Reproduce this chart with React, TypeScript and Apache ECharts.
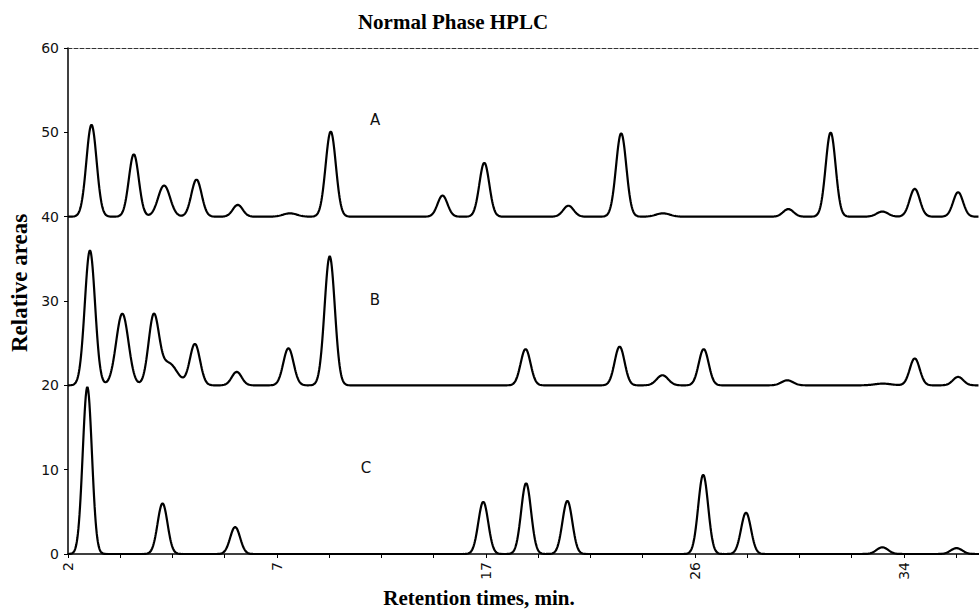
import React, { useEffect, useRef } from "react";
import * as echarts from "echarts";

// x positions are in axis-tick units (one minor tick = 1 unit); major ticks every 4 units
const xTickLabels = ["2", "7", "17", "26", "34"];
const majorTickStep = 4;
const xMax = 17.44;

// Baselines of the three offset chromatograms (relative area units)
const baselineA = 40;
const baselineB = 20;
const baselineC = 0;

// Peaks: [position (tick units), height above baseline, width (sigma, tick units)]
const peaksA: number[][] = [
  [0.45, 10.9, 0.098], [1.26, 7.4, 0.095], [1.84, 3.7, 0.115], [2.46, 4.4, 0.098],
  [3.25, 1.4, 0.095], [4.25, 0.4, 0.13], [5.03, 10.1, 0.098], [7.17, 2.5, 0.095],
  [7.97, 6.4, 0.095], [9.58, 1.3, 0.1], [10.59, 9.9, 0.098], [11.39, 0.4, 0.13],
  [13.79, 0.9, 0.1], [14.6, 10.0, 0.095], [15.59, 0.6, 0.11], [16.21, 3.3, 0.098],
  [17.04, 2.9, 0.095],
];
const peaksB: number[][] = [
  [0.42, 16.0, 0.098], [1.04, 8.5, 0.118], [1.64, 8.0, 0.1], [1.93, 2.6, 0.16],
  [2.43, 4.9, 0.098], [3.23, 1.6, 0.095], [4.22, 4.4, 0.098], [5.01, 15.3, 0.098],
  [8.76, 4.3, 0.095], [10.56, 4.6, 0.095], [11.38, 1.2, 0.11], [12.17, 4.3, 0.095],
  [13.77, 0.6, 0.11], [15.6, 0.2, 0.16], [16.21, 3.2, 0.095], [17.04, 1.0, 0.1],
];
const peaksC: number[][] = [
  [0.37, 19.8, 0.088], [1.81, 6.0, 0.095], [3.2, 3.2, 0.095], [7.95, 6.2, 0.095],
  [8.77, 8.4, 0.095], [9.56, 6.3, 0.095], [12.16, 9.4, 0.095], [12.98, 4.9, 0.095],
  [15.59, 0.8, 0.11], [17.01, 0.7, 0.11],
];

const traceNames = ["A", "B", "C"];

function trace(peaks: number[][], base: number): number[][] {
  const pts: number[][] = [];
  const step = 0.01;
  for (let x = 0; x <= xMax + 1e-9; x += step) {
    let y = base;
    for (const [c, h, s] of peaks) {
      const d = (x - c) / s;
      if (Math.abs(d) < 8) y += h * Math.exp(-0.5 * d * d);
    }
    pts.push([Math.round(x * 100) / 100, Math.round(y * 1000) / 1000]);
  }
  return pts;
}

export default function App() {
  const ref = useRef<HTMLDivElement>(null);
  useEffect(() => {
    if (!ref.current) return;
    const chart = echarts.init(ref.current, undefined, { renderer: "svg" });
    const lineStyle = { color: "#000", width: 2.2 };
    const mkSeries = (name: string, data: number[][]) => ({
      name,
      type: "line",
      data,
      showSymbol: false,
      symbol: "none",
      lineStyle,
      silent: true,
    });
    const serif = "'Liberation Serif', 'Times New Roman', serif";
    const sans = "'DejaVu Sans', Verdana, sans-serif";
    chart.setOption({
      animation: false,
      backgroundColor: "#fff",
      grid: { left: 68, right: 0, top: 48, bottom: 61, containLabel: false },
      xAxis: [
        {
          type: "value",
          min: 0,
          max: xMax,
          interval: 1,
          axisLine: { lineStyle: { color: "#000", width: 1.5 } },
          axisTick: { show: true, length: 4, lineStyle: { color: "#000" } },
          splitLine: { show: false },
          axisLabel: {
            rotate: 90,
            showMaxLabel: false,
            margin: 8,
            color: "#111",
            fontFamily: sans,
            fontSize: 14,
            formatter: (v: number) => {
              const i = Math.round(v);
              if (Math.abs(v - i) > 1e-6 || i % majorTickStep !== 0) return "";
              return xTickLabels[i / majorTickStep] ?? "";
            },
          },
        },
        {
          type: "value",
          position: "top",
          min: 0,
          max: xMax,
          axisLine: { show: true, lineStyle: { color: "#333", width: 1, type: [4, 2] } },
          axisTick: { show: false },
          axisLabel: { show: false },
          splitLine: { show: false },
        },
      ],
      yAxis: {
        type: "value",
        min: 0,
        max: 60,
        interval: 10,
        axisLine: { show: true, lineStyle: { color: "#000", width: 1.5 } },
        axisTick: { show: true, length: 4, lineStyle: { color: "#000" } },
        splitLine: { show: false },
        axisLabel: { color: "#111", fontFamily: sans, fontSize: 14, margin: 9 },
      },
      series: [
        mkSeries(traceNames[0], trace(peaksA, baselineA)),
        mkSeries(traceNames[1], trace(peaksB, baselineB)),
        mkSeries(traceNames[2], trace(peaksC, baselineC)),
      ],
      graphic: [
        {
          type: "text",
          x: 453,
          y: 22,
          style: {
            text: "Normal Phase HPLC",
            font: `bold 21px ${serif}`,
            fill: "#000",
            textAlign: "center",
            textVerticalAlign: "middle",
          },
        },
        {
          type: "text",
          x: 479,
          y: 598,
          style: {
            text: "Retention times, min.",
            font: `bold 21px ${serif}`,
            fill: "#000",
            textAlign: "center",
            textVerticalAlign: "middle",
          },
        },
        {
          type: "text",
          x: 19,
          y: 283,
          rotation: Math.PI / 2,
          style: {
            text: "Relative areas",
            font: `bold 23px ${serif}`,
            fill: "#000",
            textAlign: "center",
            textVerticalAlign: "middle",
          },
        },
        { type: "text", x: 375, y: 120, style: { text: traceNames[0], font: `15px ${sans}`, fill: "#111", textAlign: "center", textVerticalAlign: "middle" } },
        { type: "text", x: 375, y: 300, style: { text: traceNames[1], font: `15px ${sans}`, fill: "#111", textAlign: "center", textVerticalAlign: "middle" } },
        { type: "text", x: 366, y: 468, style: { text: traceNames[2], font: `15px ${sans}`, fill: "#111", textAlign: "center", textVerticalAlign: "middle" } },
      ],
    });
    return () => chart.dispose();
  }, []);
  return (
    <div
      ref={ref}
      style={{ position: "fixed", left: 0, top: 0, width: 979, height: 615, background: "#fff" }}
    />
  );
}
